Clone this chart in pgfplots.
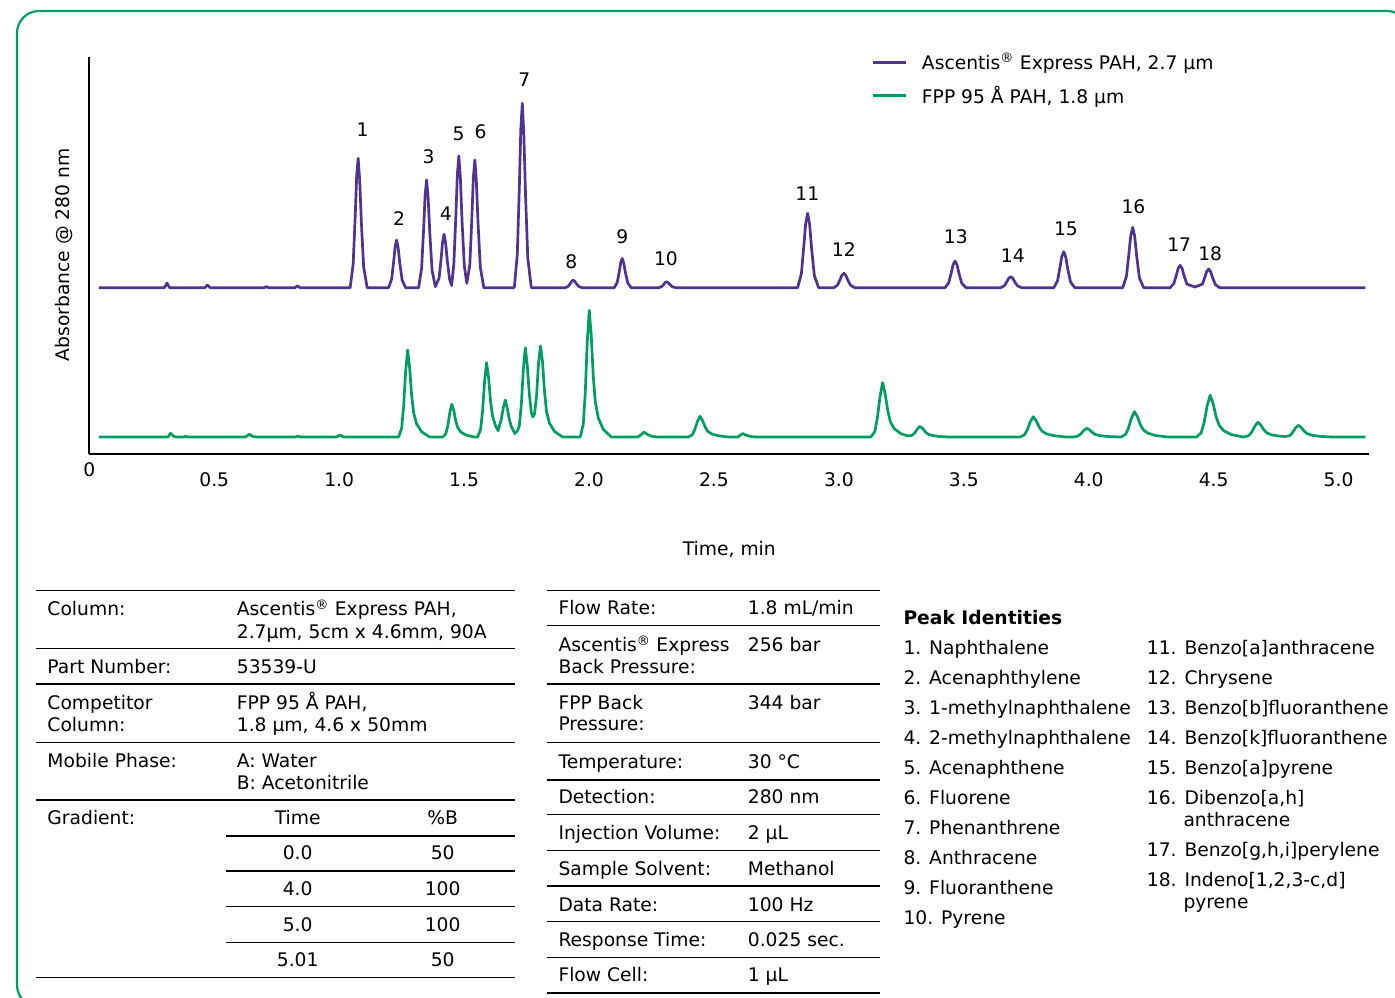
\documentclass[border=0pt]{standalone}
\usepackage{fontspec}
\setmainfont{DejaVu Sans}
\usepackage{pgfplots}
\pgfplotsset{compat=1.18}
\definecolor{ascpurple}{RGB}{80,50,145}
\definecolor{fppgreen}{RGB}{0,158,96}
\newcommand\fs{\fontsize{18.7bp}{22bp}\selectfont}

\begin{document}
\begin{tikzpicture}[font=\fs]
\path[use as bounding box] (0,0) rectangle (1395bp,998bp);

% frame and the two tables, in pixel units (y down)
\begin{scope}[x=1bp,y=-1bp,yshift=998bp]
  \draw[fppgreen, line width=2.2bp, rounded corners=22bp] (17,11) rectangle (1409,1007);

  \begin{scope}[line width=1.3bp, black]
    \foreach \y in {590.7,648.3,684,742.3,800,977.7} \draw (36,\y) -- (515,\y);
    \foreach \y in {836,871,906.7,942.3} \draw (226,\y) -- (515,\y);
    \foreach \y in {590.7,625.7,684,742.3,780,814.3,850.7,886,921.7,957.7,993} \draw (546.7,\y) -- (880,\y);
  \end{scope}

  \begin{scope}[every node/.style={anchor=base west, inner sep=0pt}]
    \node at (47.3,616) {Column:};
    \node at (236.7,616) {Ascentis\textsuperscript{®} Express PAH,};
    \node at (236.7,638.3) {2.7µm, 5cm x 4.6mm, 90A};
    \node at (47.3,673.3) {Part Number:};
    \node at (236.7,673.3) {53539-U};
    \node at (47.3,710) {Competitor};
    \node at (47.3,731.7) {Column:};
    \node at (236.7,710) {FPP 95 Å PAH,};
    \node at (236.7,731.7) {1.8 µm, 4.6 x 50mm};
    \node at (47.3,767.3) {Mobile Phase:};
    \node at (236.7,767.3) {A: Water};
    \node at (236.7,789.3) {B: Acetonitrile};
    \node at (47.3,825) {Gradient:};

    \node at (558.3,615) {Flow Rate:};
    \node at (747.7,615) {1.8 mL/min};
    \node at (558.3,651.7) {Ascentis\textsuperscript{®} Express};
    \node at (558.3,673.3) {Back Pressure:};
    \node at (747.7,651.7) {256 bar};
    \node at (558.3,709.3) {FPP Back};
    \node at (558.3,731) {Pressure:};
    \node at (747.7,709.3) {344 bar};
    \node at (558.3,768.3) {Temperature:};
    \node at (747.7,768.3) {30 °C};
    \node at (558.3,804) {Detection:};
    \node at (747.7,804) {280 nm};
    \node at (558.3,840) {Injection Volume:};
    \node at (747.7,840) {2 µL};
    \node at (558.3,876) {Sample Solvent:};
    \node at (747.7,876) {Methanol};
    \node at (558.3,911.7) {Data Rate:};
    \node at (747.7,911.7) {100 Hz};
    \node at (558.3,946.7) {Response Time:};
    \node at (747.7,946.7) {0.025 sec.};
    \node at (558.3,981.7) {Flow Cell:};
    \node at (747.7,981.7) {1 µL};

    \node[font=\fs\bfseries] at (903.3,625) {Peak Identities};
    \node at (903.3,655) {1. Naphthalene};
    \node at (903.3,685) {2. Acenaphthylene};
    \node at (903.3,715) {3. 1-methylnaphthalene};
    \node at (903.3,745) {4. 2-methylnaphthalene};
    \node at (903.3,775) {5. Acenaphthene};
    \node at (903.3,805) {6. Fluorene};
    \node at (903.3,835) {7. Phenanthrene};
    \node at (903.3,865) {8. Anthracene};
    \node at (903.3,895) {9. Fluoranthene};
    \node at (903.3,925) {10. Pyrene};
    \node at (1146.7,655) {11. Benzo[a]anthracene};
    \node at (1146.7,685) {12. Chrysene};
    \node at (1146.7,715) {13. Benzo[b]fluoranthene};
    \node at (1146.7,745) {14. Benzo[k]fluoranthene};
    \node at (1146.7,775) {15. Benzo[a]pyrene};
    \node at (1146.7,805) {16. Dibenzo[a,h]};
    \node at (1183.3,826.7) {anthracene};
    \node at (1146.7,856.7) {17. Benzo[g,h,i]perylene};
    \node at (1146.7,886.7) {18. Indeno[1,2,3-c,d]};
    \node at (1183.3,909) {pyrene};
  \end{scope}
  \begin{scope}[every node/.style={anchor=base, inner sep=0pt}]
    \node at (297.7,825) {Time};   \node at (442.7,825) {\%B};
    \node at (297.7,860) {0.0};    \node at (442.7,860) {50};
    \node at (297.7,895.7) {4.0};  \node at (442.7,895.7) {100};
    \node at (297.7,931.7) {5.0};  \node at (442.7,931.7) {100};
    \node at (297.7,966.7) {5.01}; \node at (442.7,966.7) {50};
  \end{scope}
\end{scope}

\begin{axis}[
    at={(89.3bp,544bp)}, anchor=south west,
    scale only axis, width=1280bp, height=396.7bp,
    xmin=0, xmax=5.123, ymin=0, ymax=396.7,
    axis x line*=bottom, axis y line*=left,
    axis line style={line width=1.8bp, black, -},
    xtick={0.5,1,1.5,2,2.5,3,3.5,4,4.5,5}, ytick=\empty,
    major tick length=0pt,
    /pgf/number format/fixed, /pgf/number format/fixed zerofill,
    /pgf/number format/precision=1, /pgf/number format/assume math mode=true,
    xticklabel style={font=\fs, anchor=center, yshift=-26bp},
    xlabel={Time, min},
    xlabel style={font=\fs, at={(axis description cs:0.5,-0.2395)}, anchor=center},
    ylabel={Absorbance @ 280 nm},
    ylabel style={font=\fs, at={(axis description cs:-0.0198,0.5016)}, anchor=center},
    clip=false,
    legend style={draw=none, fill=none, font=\fs, inner sep=0pt,
      at={(axis description cs:0.6113,1.0103)}, anchor=north west,
      nodes={inner sep=0pt}, column sep=14bp, row sep=15.8bp},
    legend cell align=left,
    legend image code/.code={\draw[#1, line width=3bp] (0bp,0bp) -- (33bp,0bp);},
    every axis plot/.append style={line width=2.7bp, line join=round},
  ]
  % Ascentis Express PAH, 2.7 um
  \addplot[ascpurple] coordinates {
    (0.038,166.3)(0.300,166.3)(0.306,168.5)(0.311,171.0)(0.316,168.5)(0.322,166.3)
    (0.462,166.3)(0.473,169.0)(0.484,166.3)
    (0.700,166.3)(0.709,167.3)(0.718,166.3)
    (0.822,166.3)(0.833,168.0)(0.844,166.3)
    (1.044,166.3)(1.056,189.6)(1.064,236.2)(1.070,277.6)(1.076,295.7)(1.082,275.0)(1.089,231.0)(1.098,187.0)(1.112,166.3)
    (1.198,166.3)(1.210,174.9)(1.218,192.1)(1.224,207.3)(1.230,214.0)(1.236,206.4)(1.243,190.2)(1.252,173.9)(1.266,166.3)
    (1.318,166.3)(1.330,185.7)(1.338,224.5)(1.344,258.9)(1.350,274.0)(1.356,256.8)(1.363,220.2)(1.372,183.5)(1.385,167.3)
    (1.400,175.9)(1.408,195.1)(1.414,212.2)(1.420,219.7)(1.426,211.2)(1.433,193.0)(1.442,174.8)(1.450,168.5)
    (1.459,190.0)(1.467,237.4)(1.473,279.6)(1.479,298.0)(1.485,276.9)(1.492,232.2)(1.501,188.0)(1.511,170.7)
    (1.523,189.3)(1.531,235.3)(1.537,276.1)(1.543,294.0)(1.549,273.6)(1.556,230.2)(1.565,186.7)(1.579,166.3)
    (1.701,166.3)(1.713,199.5)(1.721,265.9)(1.727,324.9)(1.733,350.7)(1.739,321.2)(1.746,258.5)(1.755,195.8)(1.769,166.3)
    (1.905,166.3)(1.917,167.7)(1.925,170.4)(1.931,172.8)(1.937,173.8)(1.943,172.6)(1.950,170.1)(1.959,167.5)(1.973,166.3)
    (2.101,166.3)(2.113,171.6)(2.121,182.1)(2.127,191.5)(2.133,195.6)(2.139,190.9)(2.146,181.0)(2.155,171.0)(2.169,166.3)
    (2.279,166.3)(2.291,167.4)(2.299,169.5)(2.305,171.5)(2.311,172.3)(2.317,171.3)(2.324,169.3)(2.333,167.3)(2.347,166.3)
    (2.835,166.3)(2.850,180.4)(2.860,208.7)(2.867,230.3)(2.875,240.7)(2.883,229.5)(2.891,205.0)(2.902,178.2)(2.919,166.3)
    (2.980,166.3)(2.995,169.0)(3.005,174.5)(3.012,178.7)(3.020,180.7)(3.028,178.5)(3.036,173.8)(3.047,168.6)(3.064,166.3)
    (3.425,166.3)(3.440,171.4)(3.450,181.5)(3.457,189.3)(3.465,193.0)(3.473,189.0)(3.481,180.2)(3.492,170.6)(3.509,166.3)
    (3.648,166.3)(3.663,168.4)(3.673,172.6)(3.680,175.8)(3.688,177.3)(3.696,175.7)(3.704,172.0)(3.715,168.1)(3.732,166.3)
    (3.860,166.3)(3.875,173.1)(3.885,186.8)(3.892,197.3)(3.900,202.3)(3.908,196.9)(3.916,185.0)(3.927,172.1)(3.944,166.3)
    (4.136,166.3)(4.151,177.8)(4.161,200.7)(4.168,218.2)(4.176,226.7)(4.184,217.6)(4.192,197.7)(4.203,176.0)(4.220,166.3)
    (4.326,166.3)(4.341,170.6)(4.351,179.1)(4.358,185.6)(4.366,188.7)(4.374,185.3)(4.382,177.9)(4.393,169.9)(4.425,167.0)
    (4.455,169.9)(4.465,177.0)(4.472,182.4)(4.480,185.0)(4.488,182.2)(4.496,176.0)(4.507,169.3)(4.524,166.3)
    (5.107,166.3)
  };
  \addlegendentry{Ascentis\textsuperscript{®} Express PAH, 2.7 µm}

  % FPP 95 A PAH, 1.8 um
  \addplot[fppgreen] coordinates {
    (0.038,17)(0.315,17)(0.325,20.7)(0.338,17.5)(0.350,17)
    (0.380,17)(0.386,18)(0.392,17)
    (0.625,17)(0.640,19.7)(0.655,17.5)(0.670,17)
    (0.825,17)(0.834,18)(0.843,17)
    (0.990,17)(1.003,19)(1.018,17)
    (1.238,17)(1.250,25.7)(1.258,47.5)(1.266,82.3)(1.274,104.0)(1.282,86.6)(1.290,58.8)(1.298,41.4)(1.310,30.1)(1.330,22.2)(1.362,17)
    (1.415,17)(1.427,20.3)(1.435,28.4)(1.443,41.5)(1.451,49.7)(1.459,43.2)(1.467,32.7)(1.475,26.2)(1.487,21.9)(1.507,19.0)(1.540,17)
    (1.554,17)(1.566,24.4)(1.574,43.0)(1.582,72.7)(1.590,91.3)(1.598,76.4)(1.606,52.7)(1.614,37.8)(1.626,28.1)(1.636,23.3)
    (1.649,34.5)(1.657,46.5)(1.665,54.0)(1.673,45.5)(1.681,34.8)(1.689,27.4)(1.703,20.5)
    (1.713,23.0)(1.721,28.0)(1.729,49.0)(1.737,84.0)(1.745,106.3)(1.753,88.4)(1.761,60.0)(1.769,42.0)(1.775,37.0)
    (1.782,40.0)(1.790,58.0)(1.798,91.3)(1.806,108.0)(1.814,92.0)(1.822,62.0)(1.830,42.5)(1.842,30.7)(1.862,22.5)(1.894,17)
    (1.965,17)(1.977,29.7)(1.985,61.3)(1.993,112.0)(2.001,143.7)(2.009,118.4)(2.017,77.8)(2.025,52.5)(2.037,36.0)(2.057,24.6)(2.089,17)
    (2.195,17)(2.210,19.5)(2.220,22)(2.232,19.8)(2.250,17.8)(2.270,17)
    (2.397,17)(2.413,19.1)(2.423,24.2)(2.434,32.5)(2.444,37.7)(2.454,33.6)(2.465,26.9)(2.475,22.8)(2.491,20.1)(2.517,18.2)(2.558,17)
    (2.595,17)(2.605,18.7)(2.615,20.4)(2.627,19)(2.645,17.6)(2.665,17)
    (3.128,17)(3.144,22.4)(3.154,36.0)(3.165,57.8)(3.175,71.4)(3.185,60.5)(3.196,43.1)(3.206,32.2)(3.222,25.2)(3.248,20.3)(3.278,18.0)
    (3.294,18.8)(3.304,21.2)(3.315,25.3)(3.325,27.7)(3.335,25.6)(3.346,22.1)(3.356,20.0)(3.372,18.6)(3.398,17.6)(3.439,17)
    (3.724,17)(3.742,19.0)(3.754,24.1)(3.766,32.2)(3.778,37.3)(3.790,33.2)(3.802,26.7)(3.814,22.7)(3.832,20.0)(3.862,18.2)(3.910,17)
    (3.938,17)(3.956,17.9)(3.968,20.0)(3.980,23.5)(3.992,25.7)(4.004,24.0)(4.016,21.2)(4.028,19.4)(4.046,18.3)(4.076,17.5)(4.124,17)
    (4.129,17)(4.147,19.5)(4.159,25.9)(4.171,36.0)(4.183,42.3)(4.195,37.2)(4.207,29.1)(4.219,24.1)(4.237,20.8)(4.267,18.5)(4.315,17)
    (4.432,17)(4.450,21.2)(4.462,31.6)(4.474,48.3)(4.486,58.7)(4.498,50.4)(4.510,37.0)(4.522,28.7)(4.540,23.3)(4.570,19.5)(4.618,17)
    (4.623,17)(4.641,18.5)(4.653,22.1)(4.665,28.0)(4.677,31.7)(4.689,28.8)(4.701,24.1)(4.713,21.1)(4.731,19.2)(4.761,17.9)(4.785,17.5)
    (4.803,18.2)(4.815,21.1)(4.827,25.8)(4.839,28.7)(4.851,26.4)(4.863,22.6)(4.875,20.3)(4.893,18.8)(4.923,17.7)(4.971,17)
    (5.107,17)
  };
  \addlegendentry{FPP 95 Å PAH, 1.8 µm}

  % peak numbers and the 0 at the origin
  \begin{scope}[every node/.style={font=\fs, inner sep=0pt}]
    \node at (axis cs:0,-16) {0};
    \node at (axis cs:1.094,324) {1};
    \node at (axis cs:1.240,235.7) {2};
    \node at (axis cs:1.358,297.3) {3};
    \node at (axis cs:1.427,240.7) {4};
    \node at (axis cs:1.478,320) {5};
    \node at (axis cs:1.566,322.3) {6};
    \node at (axis cs:1.741,374) {7};
    \node at (axis cs:1.929,192) {8};
    \node at (axis cs:2.133,217.3) {9};
    \node at (axis cs:2.308,195.7) {10};
    \node at (axis cs:2.874,260.7) {11};
    \node at (axis cs:3.020,204.7) {12};
    \node at (axis cs:3.468,217.3) {13};
    \node at (axis cs:3.696,198) {14};
    \node at (axis cs:3.909,224.7) {15};
    \node at (axis cs:4.179,247.3) {16};
    \node at (axis cs:4.362,209) {17};
    \node at (axis cs:4.486,200.7) {18};
  \end{scope}
\end{axis}
\end{tikzpicture}
\end{document}
